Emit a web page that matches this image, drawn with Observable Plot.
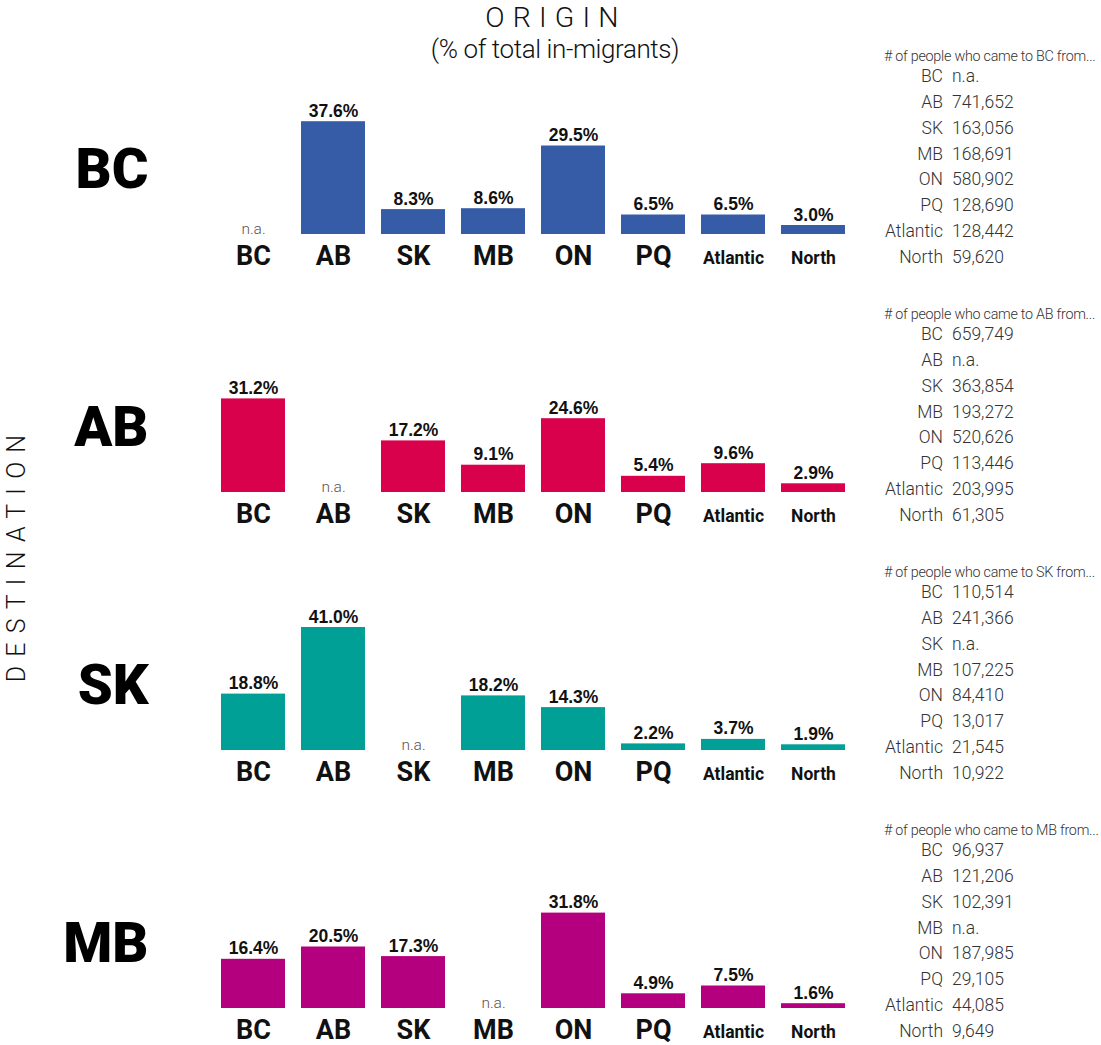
<!DOCTYPE html>
<html><head><meta charset="utf-8">
<script src="https://cdn.jsdelivr.net/npm/d3@7"></script>
<script src="https://cdn.jsdelivr.net/npm/@observablehq/plot@0.6"></script>
<style>
body{margin:0;background:#fff;}
#wrap{position:relative;width:1101px;height:1045px;overflow:hidden;font-family:Roboto,"Liberation Sans",sans-serif;color:#111;}
#chart{position:absolute;left:0;top:0;}
.t1{position:absolute;left:356px;width:400px;text-align:center;top:2px;font-size:28.5px;font-weight:300;letter-spacing:8.2px;line-height:32px;}
.t2{position:absolute;left:355px;width:400px;text-align:center;top:33px;font-size:26px;font-weight:300;line-height:32px;letter-spacing:-0.4px;}
.dest{position:absolute;left:-133px;top:538px;width:300px;height:32px;line-height:32px;text-align:center;font-size:25px;font-weight:300;letter-spacing:9.2px;transform:rotate(-90deg);}
.tbl{position:absolute;left:860px;width:241px;color:#333;font-weight:300;}
.tbl .hd{font-size:14.3px;line-height:18px;height:18px;white-space:nowrap;padding-left:24px;letter-spacing:-0.25px;}
.tbl .row{height:25.85px;line-height:25.85px;font-size:17.5px;white-space:nowrap;}
.tbl .lab{display:inline-block;width:83px;text-align:right;margin-right:9px;}
</style></head>
<body><div id="wrap"><div id="chart"></div>
<div class="t1">ORIGIN</div>
<div class="t2">(% of total in-migrants)</div>
<div class="dest">DESTINATION</div>
</div>
<script>
const destinations = ["BC", "AB", "SK", "MB"];
const origins = ["BC", "AB", "SK", "MB", "ON", "PQ", "Atlantic", "North"];
const colors = ["#365ca8", "#d9004c", "#00a096", "#b4007e"];

const shareToBC = [null, 37.6, 8.3, 8.6, 29.5, 6.5, 6.5, 3.0];
const shareToAB = [31.2, null, 17.2, 9.1, 24.6, 5.4, 9.6, 2.9];
const shareToSK = [18.8, 41.0, null, 18.2, 14.3, 2.2, 3.7, 1.9];
const shareToMB = [16.4, 20.5, 17.3, null, 31.8, 4.9, 7.5, 1.6];

const countToBC = [null, 741652, 163056, 168691, 580902, 128690, 128442, 59620];
const countToAB = [659749, null, 363854, 193272, 520626, 113446, 203995, 61305];
const countToSK = [110514, 241366, null, 107225, 84410, 13017, 21545, 10922];
const countToMB = [96937, 121206, 102391, null, 187985, 29105, 44085, 9649];

const shares = [shareToBC, shareToAB, shareToSK, shareToMB];
const counts = [countToBC, countToAB, countToSK, countToMB];

const rows = [];
destinations.forEach((d, i) => origins.forEach((o, j) => rows.push({dest: d, origin: o, share: shares[i][j]})));
const bars = rows.filter(r => r.share != null);
const na = rows.filter(r => r.share == null);
const shortLab = rows.filter(r => r.origin.length <= 2);
const longLab = rows.filter(r => r.origin.length > 2);

const plot = Plot.plot({
  width: 870,
  height: 1045,
  marginLeft: 205,
  marginRight: 9,
  marginTop: 99,
  marginBottom: 37,
  style: {fontFamily: "Roboto, 'Liberation Sans', sans-serif", background: "transparent"},
  x: {domain: origins, padding: 0.2, axis: null},
  y: {domain: [0, 45], axis: null},
  fy: {domain: destinations, paddingInner: 123 / 258, paddingOuter: 0, label: null},
  color: {domain: destinations, range: colors},
  marks: [
    Plot.barY(bars, {x: "origin", y: "share", fy: "dest", fill: "dest"}),
    Plot.text(bars, {x: "origin", y: "share", fy: "dest", text: d => d.share.toFixed(1) + "%", dy: -5, lineAnchor: "bottom", fontWeight: 700, fontSize: 17.5, fontFamily: "'Liberation Sans', Arial, sans-serif", fill: "#111"}),
    Plot.text(na, {x: "origin", y: 0, fy: "dest", text: () => "n.a.", lineAnchor: "bottom", dy: -1, fill: "#555", fontSize: 15.5, fontWeight: 300}),
    Plot.text(shortLab, {x: "origin", fy: "dest", frameAnchor: "bottom", lineAnchor: "bottom", dy: 30, text: "origin", fontSize: 27, fontWeight: 700, fill: "#111"}),
    Plot.text(longLab, {x: "origin", fy: "dest", frameAnchor: "bottom", lineAnchor: "bottom", dy: 29, text: "origin", fontSize: 17.5, fontWeight: 700, fill: "#111"}),
    Plot.axisFy({anchor: "left", tickSize: 0, tickPadding: 57, fontSize: 56, fontWeight: 900, dy: 3, label: null, fill: "#000"})
  ]
});
document.getElementById("chart").appendChild(plot);

// side tables
const wrap = document.getElementById("wrap");
const fmt = d3.format(",");
const baselines = destinations.map((d, i) => 99 + 258 * i + 135);
destinations.forEach((d, i) => {
  const base = baselines[i];
  const t = document.createElement("div");
  t.className = "tbl";
  t.style.top = (base - 178 - 9) + "px";
  const hd = document.createElement("div");
  hd.className = "hd";
  hd.textContent = `# of people who came to ${d} from...`;
  t.appendChild(hd);
  const body = document.createElement("div");
  body.style.marginTop = "-1px";
  origins.forEach((o, j) => {
    const r = document.createElement("div");
    r.className = "row";
    const l = document.createElement("span");
    l.className = "lab";
    l.textContent = o;
    const v = document.createElement("span");
    v.textContent = counts[i][j] == null ? "n.a." : fmt(counts[i][j]);
    r.appendChild(l); r.appendChild(v);
    body.appendChild(r);
  });
  t.appendChild(body);
  wrap.appendChild(t);
});
</script>
</body></html>
